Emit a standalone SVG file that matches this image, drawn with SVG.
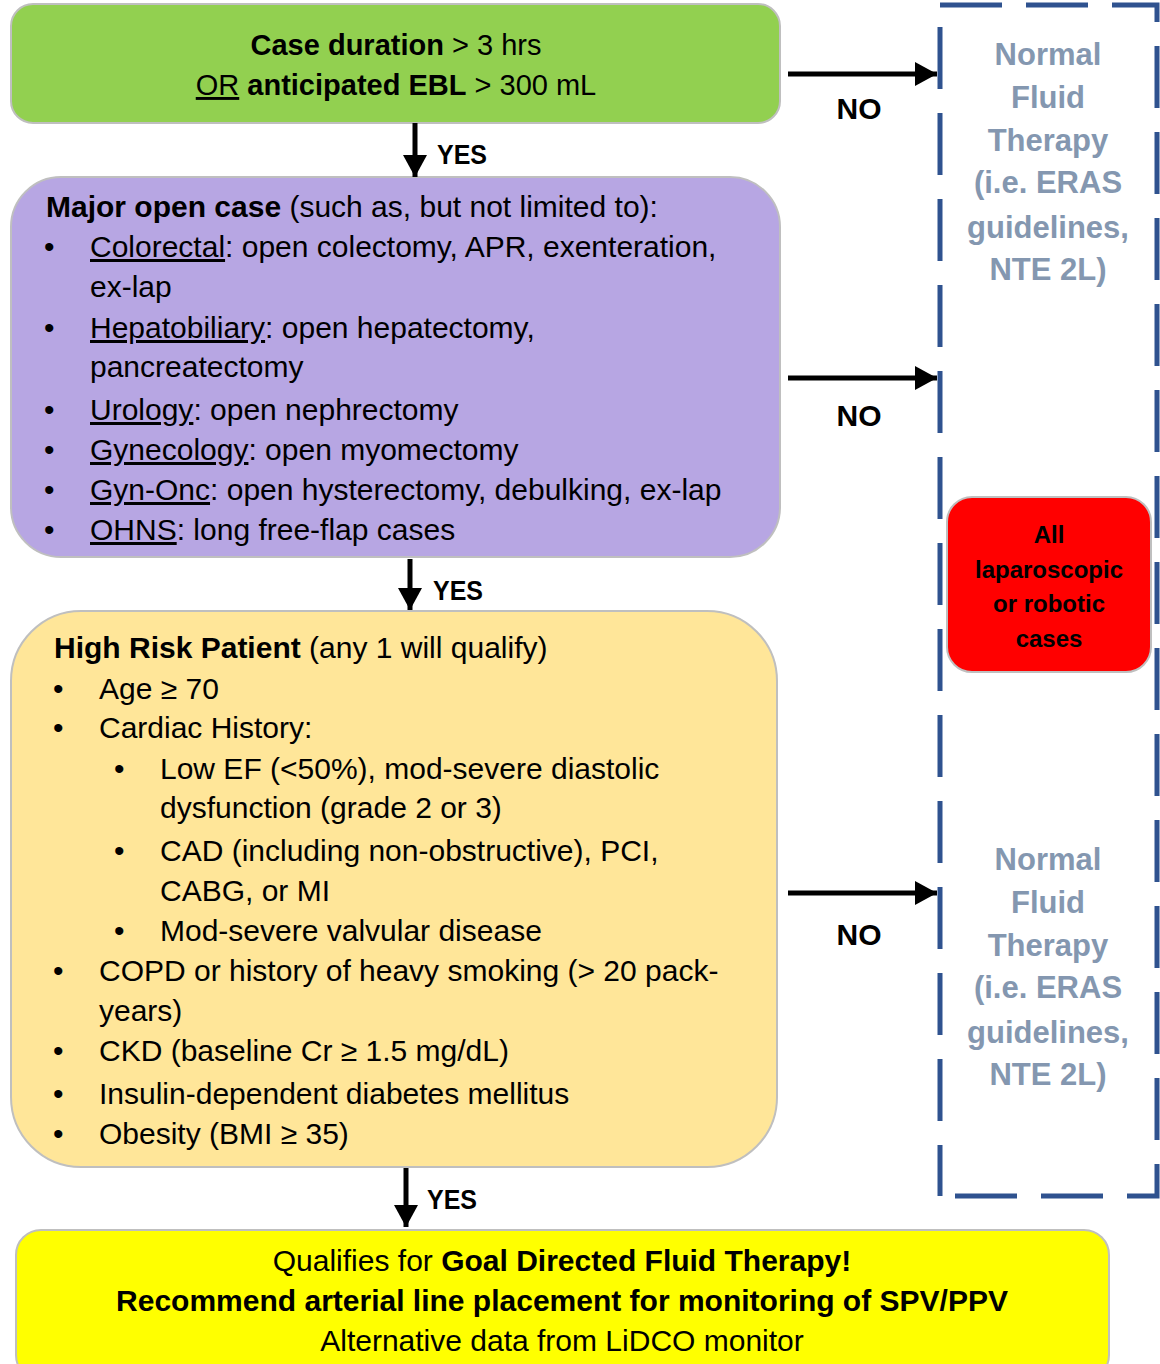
<svg xmlns="http://www.w3.org/2000/svg" width="1160" height="1364" viewBox="0 0 1160 1364">
<style>
text{font-family:"Liberation Sans",Arial,sans-serif;fill:#000}
.b{font-weight:bold}
.u{text-decoration:underline}
.body{font-size:30px}
.hdr{font-size:29px}
.lbl{font-size:30px;font-weight:bold;text-anchor:middle}
.yes{font-size:27px;font-weight:bold}
.side{font-size:31px;font-weight:bold;fill:#8497B0;text-anchor:middle}
.red{font-size:24px;font-weight:bold;text-anchor:middle}
.box{stroke:#BFBFBF;stroke-width:2}
.conn{stroke:#000;stroke-width:5;fill:none}
.dash{fill:none;stroke:#2F528F;stroke-width:5;stroke-dasharray:62 24}
</style>
<defs>
<marker id="ah" markerUnits="userSpaceOnUse" markerWidth="24" markerHeight="24" refX="22" refY="12" orient="auto">
<path d="M0,0 L22,12 L0,24 Z" fill="#000"/>
</marker>
</defs>

<g id="dashed-frame">
<path class="dash" d="M940,5 H1157 V1196 H940"/>
<path class="dash" d="M940,27 V1196"/>
</g>

<g id="n-case-duration">
<rect class="box" x="11" y="4" width="769" height="119" rx="22" fill="#92D050"/>
<text class="hdr" x="396" y="55" text-anchor="middle"><tspan class="b">Case duration</tspan> &gt; 3 hrs</text>
<text class="hdr" x="396" y="95" text-anchor="middle"><tspan class="u">OR</tspan> <tspan class="b">anticipated EBL</tspan> &gt; 300 mL</text>
</g>

<g id="n-major-open">
<rect class="box" x="11" y="177" width="769" height="380" rx="50" fill="#B7A6E3"/>
<text class="body" x="46" y="217"><tspan class="b">Major open case</tspan> (such as, but not limited to):</text>
<text class="body" x="44" y="257">•</text>
<text class="body" x="90" y="257"><tspan class="u">Colorectal</tspan>: open colectomy, APR, exenteration,</text>
<text class="body" x="90" y="297">ex-lap</text>
<text class="body" x="44" y="338">•</text>
<text class="body" x="90" y="338"><tspan class="u">Hepatobiliary</tspan>: open hepatectomy,</text>
<text class="body" x="90" y="377">pancreatectomy</text>
<text class="body" x="44" y="420">•</text>
<text class="body" x="90" y="420"><tspan class="u">Urology</tspan>: open nephrectomy</text>
<text class="body" x="44" y="460">•</text>
<text class="body" x="90" y="460"><tspan class="u">Gynecology</tspan>: open myomectomy</text>
<text class="body" x="44" y="500">•</text>
<text class="body" x="90" y="500"><tspan class="u">Gyn-Onc</tspan>: open hysterectomy, debulking, ex-lap</text>
<text class="body" x="44" y="540">•</text>
<text class="body" x="90" y="540"><tspan class="u">OHNS</tspan>: long free-flap cases</text>
</g>

<g id="n-high-risk">
<rect class="box" x="11" y="611" width="766" height="556" rx="70" fill="#FFE699"/>
<text class="body" x="54" y="658"><tspan class="b">High Risk Patient</tspan> (any 1 will qualify)</text>
<text class="body" x="53" y="699">•</text>
<text class="body" x="99" y="699">Age ≥ 70</text>
<text class="body" x="53" y="738">•</text>
<text class="body" x="99" y="738">Cardiac History:</text>
<text class="body" x="114" y="779">•</text>
<text class="body" x="160" y="779">Low EF (&lt;50%), mod-severe diastolic</text>
<text class="body" x="160" y="818">dysfunction (grade 2 or 3)</text>
<text class="body" x="114" y="861">•</text>
<text class="body" x="160" y="861">CAD (including non-obstructive), PCI,</text>
<text class="body" x="160" y="901">CABG, or MI</text>
<text class="body" x="114" y="941">•</text>
<text class="body" x="160" y="941">Mod-severe valvular disease</text>
<text class="body" x="53" y="981">•</text>
<text class="body" x="99" y="981">COPD or history of heavy smoking (&gt; 20 pack-</text>
<text class="body" x="99" y="1021">years)</text>
<text class="body" x="53" y="1061">•</text>
<text class="body" x="99" y="1061">CKD (baseline Cr ≥ 1.5 mg/dL)</text>
<text class="body" x="53" y="1104">•</text>
<text class="body" x="99" y="1104">Insulin-dependent diabetes mellitus</text>
<text class="body" x="53" y="1144">•</text>
<text class="body" x="99" y="1144">Obesity (BMI ≥ 35)</text>
</g>

<g id="n-goal-directed">
<rect class="box" x="16" y="1230" width="1093" height="150" rx="25" fill="#FFFF00"/>
<text class="body" x="562" y="1271" text-anchor="middle">Qualifies for <tspan class="b">Goal Directed Fluid Therapy!</tspan></text>
<text class="body b" x="562" y="1311" text-anchor="middle">Recommend arterial line placement for monitoring of SPV/PPV</text>
<text class="body" x="562" y="1351" text-anchor="middle">Alternative data from LiDCO monitor</text>
</g>

<g id="n-normal-1">
<text class="side" x="1048" y="65">Normal</text>
<text class="side" x="1048" y="108">Fluid</text>
<text class="side" x="1048" y="151">Therapy</text>
<text class="side" x="1048" y="193">(i.e. ERAS</text>
<text class="side" x="1048" y="238">guidelines,</text>
<text class="side" x="1048" y="280">NTE 2L)</text>
</g>

<g id="n-laparoscopic">
<rect class="box" x="947" y="497" width="204" height="175" rx="25" fill="#FF0000"/>
<text class="red" x="1049" y="543">All</text>
<text class="red" x="1049" y="578">laparoscopic</text>
<text class="red" x="1049" y="612">or robotic</text>
<text class="red" x="1049" y="647">cases</text>
</g>

<g id="n-normal-2">
<text class="side" x="1048" y="870">Normal</text>
<text class="side" x="1048" y="913">Fluid</text>
<text class="side" x="1048" y="956">Therapy</text>
<text class="side" x="1048" y="998">(i.e. ERAS</text>
<text class="side" x="1048" y="1043">guidelines,</text>
<text class="side" x="1048" y="1085">NTE 2L)</text>
</g>

<g id="connectors">
<line class="conn" x1="415" y1="123" x2="415" y2="177" marker-end="url(#ah)"/>
<line class="conn" x1="410" y1="559" x2="410" y2="610" marker-end="url(#ah)"/>
<line class="conn" x1="406" y1="1168" x2="406" y2="1227" marker-end="url(#ah)"/>
<line class="conn" x1="788" y1="74" x2="937" y2="74" marker-end="url(#ah)"/>
<line class="conn" x1="788" y1="378" x2="937" y2="378" marker-end="url(#ah)"/>
<line class="conn" x1="788" y1="893" x2="937" y2="893" marker-end="url(#ah)"/>
<text class="yes" x="437" y="164" textLength="50" lengthAdjust="spacingAndGlyphs">YES</text>
<text class="yes" x="433" y="600" textLength="50" lengthAdjust="spacingAndGlyphs">YES</text>
<text class="yes" x="427" y="1209" textLength="50" lengthAdjust="spacingAndGlyphs">YES</text>
<text class="lbl" x="859" y="119">NO</text>
<text class="lbl" x="859" y="426">NO</text>
<text class="lbl" x="859" y="945">NO</text>
</g>
</svg>
